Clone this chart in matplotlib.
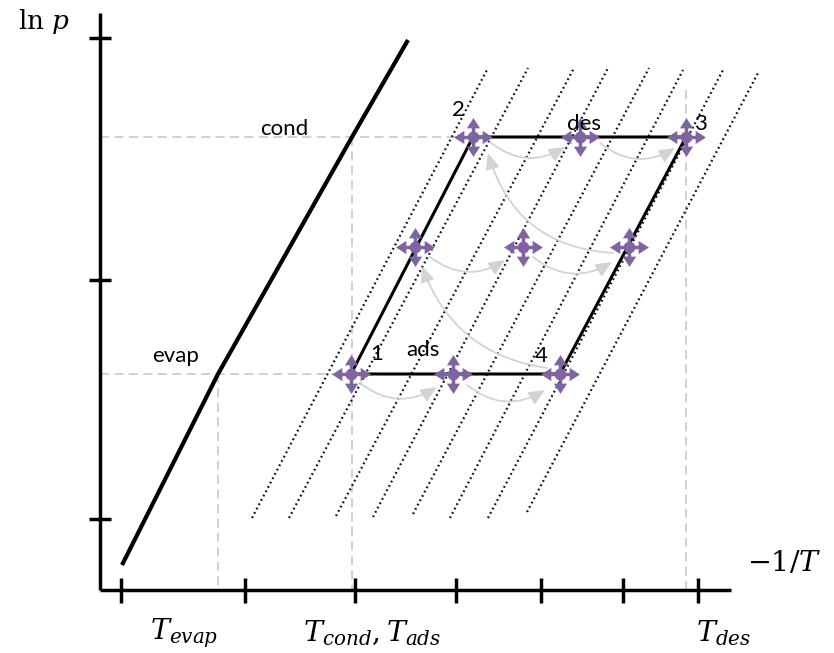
import matplotlib
matplotlib.use('Agg')
import matplotlib.pyplot as plt
from matplotlib.path import Path

plt.rcParams['mathtext.fontset'] = 'dejavuserif'

# ---------------- data (schematic, pixel-like units, y downwards) ----------------
sat_x = [122, 218, 352, 408]
sat_y = [565, 374, 137, 40]

cycle_x = [351, 473, 686, 560, 351]
cycle_y = [374, 137, 137, 374, 374]

state_x = [351, 453, 560, 415, 523, 629, 473, 580, 686]
state_y = [374, 374, 374, 247, 247, 247, 137, 137, 137]

iso_x_bottom = [252, 289, 336, 373, 413, 450, 488, 527]
iso_y_bottom = [518, 518, 516, 517, 514, 518, 518, 512]
iso_x_top = [488, 528, 574, 608, 649, 683, 724, 758]
iso_y_top = [68, 68, 68, 68, 68, 70, 68, 73]

# guide (dashed) lines: x0, y0, x1, y1
guide_lines = [
    (100, 137, 473, 137),
    (100, 374, 351, 374),
    (218, 374, 218, 590),
    (352, 137, 352, 590),
    (686, 90, 686, 590),
]

# gray transition arrows
arrow_start_x = [360, 467, 430, 533, 490, 600, 547, 613]
arrow_start_y = [383, 385, 257, 257, 142, 143, 368, 253]
arrow_end_x = [437, 545, 505, 612, 565, 675, 422, 488]
arrow_end_y = [387, 390, 260, 262, 147, 148, 266, 153]
arrow_rad = [0.35, 0.35, 0.35, 0.35, 0.35, 0.35, -0.3, -0.35]

xtick_pos = [121, 245, 355, 456, 541, 623, 698]
ytick_pos = [38, 280, 519]
axis_origin = (100, 590)
axis_x_end = 731
axis_y_end = 13

state_labels = ['1', '2', '3', '4', 'ads', 'des', 'cond', 'evap']
state_label_x = [377, 458, 700, 541, 423, 584, 284, 176]
state_label_y = [354, 110, 124, 356, 350, 124, 129, 356]

xlabels = [r'$T_{evap}$', r'$T_{cond}, T_{ads}$', r'$T_{des}$']
xlabel_x = [184, 372, 724]
xlabel_y = [633, 633, 633]

# ---------------- figure ----------------
fig = plt.figure(figsize=(8.34, 6.53), dpi=100)
ax = fig.add_axes([0, 0, 1, 1])
ax.set_xlim(0, 834)
ax.set_ylim(653, 0)
ax.axis('off')

gray = '#cdcdcd'
for (x0, y0, x1, y1) in guide_lines:
    ax.plot([x0, x1], [y0, y1], color=gray, lw=1.3, ls=(0, (5, 3)), zorder=1)

# isosteres
for xb, yb, xt, yt in zip(iso_x_bottom, iso_y_bottom, iso_x_top, iso_y_top):
    ax.plot([xb, xt], [yb, yt], color='#111111', lw=1.6, ls=(0, (0.8, 1.4)),
            zorder=2, solid_capstyle='butt')

# axes
ox, oy = axis_origin
ax.plot([ox, ox], [axis_y_end, oy], color='black', lw=2.5, zorder=3, solid_capstyle='butt')
ax.plot([ox, axis_x_end], [oy, oy], color='black', lw=2.5, zorder=3, solid_capstyle='butt')
for t in xtick_pos:
    ax.plot([t, t], [578, 603], color='black', lw=2.5, zorder=3, solid_capstyle='butt')
for t in ytick_pos:
    ax.plot([89, 111], [t, t], color='black', lw=2.5, zorder=3, solid_capstyle='butt')

# saturation line
ax.plot(sat_x, sat_y, color='black', lw=3, zorder=4, solid_capstyle='butt',
        solid_joinstyle='round')

# cycle
ax.plot(cycle_x, cycle_y, color='black', lw=2.2, zorder=4)

# gray arrows
for x0, y0, x1, y1, r in zip(arrow_start_x, arrow_start_y, arrow_end_x, arrow_end_y, arrow_rad):
    ax.annotate('', xy=(x1, y1), xytext=(x0, y0),
                arrowprops=dict(arrowstyle='-|>,head_length=0.8,head_width=0.35',
                                mutation_scale=12, color='#d3d3d3', lw=1.3,
                                shrinkA=0, shrinkB=0,
                                connectionstyle=f'arc3,rad={r}'),
                zorder=5)

# four-way arrow marker
s, b, h = 0.09, 0.47, 0.34
verts = [(b, -s), (b, -h), (1, 0), (b, h), (b, s), (s, s),
         (s, b), (h, b), (0, 1), (-h, b), (-s, b), (-s, s),
         (-b, s), (-b, h), (-1, 0), (-b, -h), (-b, -s), (-s, -s),
         (-s, -b), (-h, -b), (0, -1), (h, -b), (s, -b), (s, -s), (b, -s)]
codes = [Path.MOVETO] + [Path.LINETO] * (len(verts) - 2) + [Path.CLOSEPOLY]
move_marker = Path(verts, codes)
purple = '#8064A2'
ax.plot(state_x, state_y, ls='none', marker=move_marker, markersize=28,
        markerfacecolor=purple, markeredgecolor='none', zorder=6)
ax.plot(state_x, state_y, ls='none', marker='o', markersize=8.5,
        markerfacecolor=purple, markeredgecolor='none', zorder=6)

# labels
for lab, x, y in zip(state_labels, state_label_x, state_label_y):
    ax.text(x, y, lab, fontsize=16, family='Lato', ha='center', va='center', zorder=7)

for lab, x, y in zip(xlabels, xlabel_x, xlabel_y):
    ax.text(x, y, lab, fontsize=20.5, ha='center', va='center')

ax.text(44, 22, r'$\ln\,p$', fontsize=19, ha='center', va='center')
ax.text(784, 563, r'$-1/T$', fontsize=20.5, ha='center', va='center')

fig.savefig('out.png', dpi=100)
